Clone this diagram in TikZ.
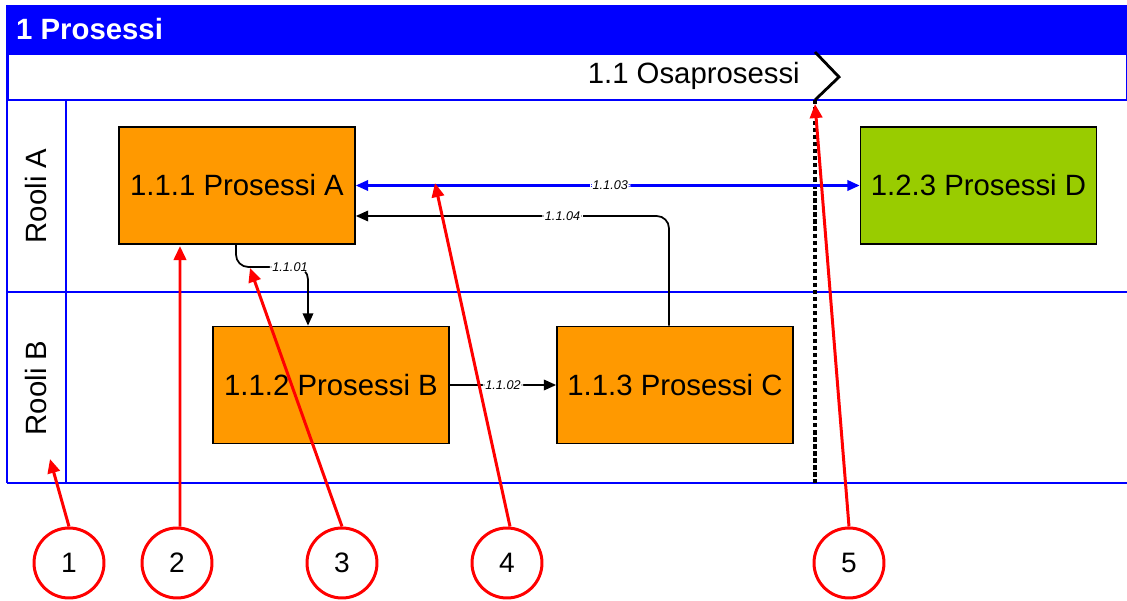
\documentclass[tikz,border=0pt]{standalone}
\usepackage{fontspec}
\setmainfont{Liberation Sans}
\usetikzlibrary{positioning, arrows.meta}
\definecolor{laneblue}{RGB}{0,0,255}
\definecolor{procorange}{RGB}{255,153,0}
\definecolor{procgreen}{RGB}{153,204,0}
\tikzset{
  x=0.02cm, y=-0.02cm, % one unit is one pixel of the sketch, y runs downwards
  proc/.style={draw=black, line width=1pt, fill=procorange, minimum width=4.72cm, minimum height=2.34cm, inner sep=0pt, font=\fontsize{16.7}{19}\selectfont}, % the process boxes
  flow/.style={-{Triangle[length=7pt,width=6pt]}, line width=1pt, rounded corners=7pt}, % connector between processes
  flowlabel/.style={fill=white, inner sep=1.5pt, font=\fontsize{7.2}{8}\selectfont\itshape}, % label sitting on a connector
  lanetext/.style={font=\fontsize{16.7}{19}\selectfont},
  callout/.style={circle, draw=red, line width=1.7pt, minimum size=1.4cm, inner sep=0pt, font=\fontsize{16}{19}\selectfont}, % numbered red circles
  pointer/.style={red, line width=1.7pt, -{Triangle[length=8pt,width=7pt]}}, % red arrows of the circles
}

\begin{document}
\begin{tikzpicture}
    \useasboundingbox (0,0) rectangle (1127,601);
    % pool and lanes
    \fill[laneblue] (7,5) rectangle (1127,54);
    \node[anchor=west, text=white, font=\fontsize{16.7}{19}\selectfont\bfseries] (pool) at (10,29) {1 Prosessi};
    \draw[laneblue, line width=0.8pt] (8,54) rectangle (1127,100);
    \node[anchor=east, lanetext] (phase) at (806,76) {1.1 Osaprosessi};
    \draw[laneblue, line width=0.6pt] (7,292) -- (1127,292);
    \draw[laneblue, line width=0.6pt] (66,100) -- (66,483);
    \draw[laneblue, line width=1.1pt] (7,5) -- (7,483);
    \draw[laneblue, line width=1.7pt] (7,483) -- (1127,483);
    \node[rotate=90, lanetext] (laneA) at (36,196) {Rooli A};
    \node[rotate=90, lanetext] (laneB) at (36,388) {Rooli B};
    % phase border
    \draw[line width=1.6pt] (815,52) -- (839,77) -- (815,100);
    \draw[line width=2.3pt, dash pattern=on 2.4pt off 1.6pt] (815,100) -- (815,483);
    % processes
    \node[proc] (A) at (237,185.5) {1.1.1 Prosessi A};
    \node[proc, fill=procgreen] (D) at (978.5,185.5) {1.2.3 Prosessi D};
    \node[proc] (B) at (331,385) {1.1.2 Prosessi B};
    \node[proc] (C) at (675,385) {1.1.3 Prosessi C};
    % flows
    \draw[flow] ([xshift=-0.02cm]A.south) |- (290,267) node[flowlabel]{1.1.01} -| ([xshift=-0.46cm]B.north);
    \draw[flow] (B) -- node[flowlabel]{1.1.02} (C);
    \draw[flow, {Triangle[length=7pt,width=6pt]}-{Triangle[length=7pt,width=6pt]}, laneblue, line width=1.2pt] (A) -- node[flowlabel, text=black, pos=0.505]{1.1.03} (D);
    \draw[flow] ([xshift=-0.12cm]C.north) |- node[flowlabel, pos=0.67]{1.1.04} ([yshift=-0.61cm]A.east);
    % numbered callouts
    \node[callout] (c1) at (69,563) {1};
    \node[callout] (c2) at (177,563) {2};
    \node[callout] (c3) at (342,563) {3};
    \node[callout] (c4) at (507,563) {4};
    \node[callout] (c5) at (849,563) {5};
    \coordinate (t1) at (50,459);
    \coordinate (t2) at (180,246);
    \coordinate (t3) at (250,268);
    \coordinate (t4) at (435,183);
    \coordinate (t5) at (815,104);
    \draw[pointer] (c1.north) -- (t1);
    \draw[pointer] ([xshift=0.06cm]c2.north) -- (t2);
    \draw[pointer] (c3.north) -- (t3);
    \draw[pointer] ([xshift=0.06cm]c4.north) -- (t4);
    \draw[pointer] (c5.north) -- (t5);
\end{tikzpicture}
\end{document}
